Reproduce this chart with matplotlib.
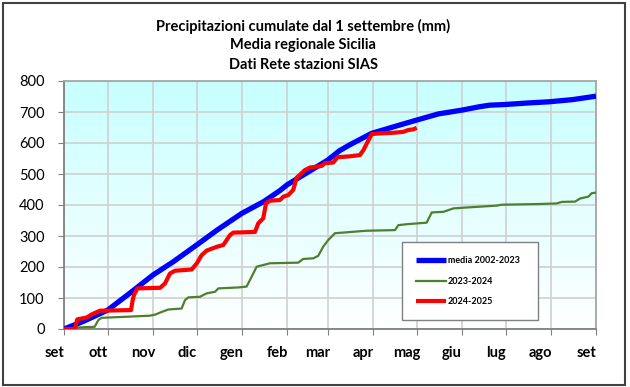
import matplotlib
matplotlib.use("Agg")
import matplotlib.pyplot as plt
import matplotlib.transforms as mtransforms
from matplotlib.patches import Rectangle
import numpy as np

plt.rcParams['font.family'] = ['Lato', 'DejaVu Sans']

# giorni dal 1 settembre e pioggia cumulata (mm)
media_days = [0, 13, 30, 45, 61, 75, 91, 105, 122, 137, 148, 153, 166, 181, 189, 196,
              211, 226, 242, 257, 273, 285, 292, 302, 318, 333, 349, 365]
media_mm = [0, 24, 61, 115, 174, 217, 271, 319, 373, 411, 446, 465, 502, 545, 575, 594,
            631, 652, 674, 694, 706, 717, 722, 724, 729, 733, 740, 751]

y2324_days = [0, 8, 9, 21, 23.6, 25.8, 30.4, 45.3, 59, 63, 65.9, 71.6, 80.7, 83, 85.3, 93.3,
              97.9, 103.6, 105.9, 119.6, 125.3, 127.6, 132.2, 141.3, 160.7, 164.1, 171, 174.4,
              177.9, 181.3, 185.9, 194, 207.7, 227.1, 229.4, 235.1, 248.8, 252.3, 260.3, 267.1,
              276.3, 296.9, 300.3, 324.3, 338, 341.5, 350.7, 354.1, 359.8, 362.1, 365]
y2324_mm = [0, 0, 5, 7, 29, 36, 37, 40, 43, 47, 53, 63, 66, 93, 102, 104,
            115, 120, 131, 134, 137, 158, 201, 212, 214, 226, 228, 236,
            266, 287, 309, 312, 317, 319, 335, 338, 343, 376, 378, 389,
            392, 398, 401, 403, 405, 410, 411, 421, 427, 438, 440]

y2425_days = [0, 7.5, 8.5, 9.1, 15.6, 19, 24.7, 46, 47, 48, 50.3, 66, 69.3, 72.7, 76.2, 87.6,
              91, 94.4, 97.9, 104.7, 109.3, 113.9, 116.2, 131, 133.3, 136.7, 138.6, 141.3,
              148.2, 150.5, 153.9, 157.3, 159.6, 165.4, 168.8, 176.8, 179, 184.8, 187.5, 196,
              203, 205.4, 211.1, 216.8, 226, 232.8, 236.3, 239.7, 242]
y2425_mm = [0, 0, 20, 31, 37, 47, 59, 61, 90, 110, 131, 133, 147, 179, 188, 192,
            211, 238, 253, 265, 271, 303, 311, 313, 341, 357, 405, 414,
            416, 427, 432, 449, 488, 513, 521, 526, 535, 537, 554, 557,
            561, 577, 629, 631, 633, 636, 642, 644, 649]

month_days = [0, 30, 61, 91, 122, 153, 181, 212, 242, 273, 303, 334, 365]
month_labels = ['set', 'ott', 'nov', 'dic', 'gen', 'feb', 'mar', 'apr', 'mag',
                'giu', 'lug', 'ago', 'set']
y_ticks = list(range(0, 801, 100))

fig = plt.figure(figsize=(6.3, 3.87), dpi=100)
ax = fig.add_axes([64/630, 58/387, 532/630, 248/387])

# sfondo sfumato azzurro -> bianco
grad = np.linspace(1, 0, 256).reshape(-1, 1)
top = np.array([0.78, 1.0, 1.0])
bottom = np.array([1.0, 1.0, 1.0])
img = bottom + (top - bottom) * grad[..., None]
ax.imshow(img, extent=[0, 1, 0, 1], transform=ax.transAxes, aspect='auto', zorder=0)

ax.set_xlim(0, 365)
ax.set_ylim(0, 800)
ax.set_xticks(month_days)
ax.set_xticklabels(month_labels, fontsize=10.5, fontweight='bold')
ax.set_yticks(y_ticks)
ax.set_yticklabels([str(v) for v in y_ticks], fontsize=10.5)
ax.grid(True, color='#D0D0D0', lw=1.2, zorder=1)
ax.set_axisbelow(True)

ax.tick_params(axis='x', length=4, pad=8, color='#808080')
ax.tick_params(axis='y', length=4, pad=10, color='#808080')
offset = mtransforms.ScaledTranslation(-10/100, 0, fig.dpi_scale_trans)
for lab in ax.get_xticklabels():
    lab.set_transform(lab.get_transform() + offset)

for side in ['left', 'bottom']:
    ax.spines[side].set_color('#808080')
    ax.spines[side].set_linewidth(1.3)
for side in ['top', 'right']:
    ax.spines[side].set_color('#A6A6A6')
    ax.spines[side].set_linewidth(1.3)

ax.plot(media_days, media_mm, color='#0000FF', lw=3.8, label='media 2002-2023', zorder=3,
        solid_capstyle='butt')
ax.plot(y2324_days, y2324_mm, color='#4E7F2C', lw=1.6, label='2023-2024', zorder=3)
ax.plot(y2425_days, y2425_mm, color='#FF0000', lw=3.0, label='2024-2025', zorder=4,
        solid_capstyle='butt')

leg = ax.legend(loc='upper left', bbox_to_anchor=(0.635, 0.351, 0.256, 0.0),
                mode='expand', borderaxespad=0, prop={'weight': 'bold', 'size': 6.5},
                handlelength=3.3, handletextpad=0.2, borderpad=1.6, labelspacing=1.25,
                fancybox=False, framealpha=1, edgecolor='#808080')
leg.get_frame().set_linewidth(1.0)

title_lines = ['Precipitazioni cumulate dal 1 settembre (mm)',
               'Media regionale Sicilia',
               'Dati Rete stazioni SIAS']
for i, line in enumerate(title_lines):
    fig.text(0.481, 1 - (26 + 19.5 * i)/387, line, ha='center', va='center',
             fontsize=10.5, fontweight='bold')

fig.patches.append(Rectangle((3/630, 2/387), 622/630, 382/387, transform=fig.transFigure,
                             fill=False, edgecolor='#404040', lw=1.5))

fig.savefig('out.png', dpi=100)
